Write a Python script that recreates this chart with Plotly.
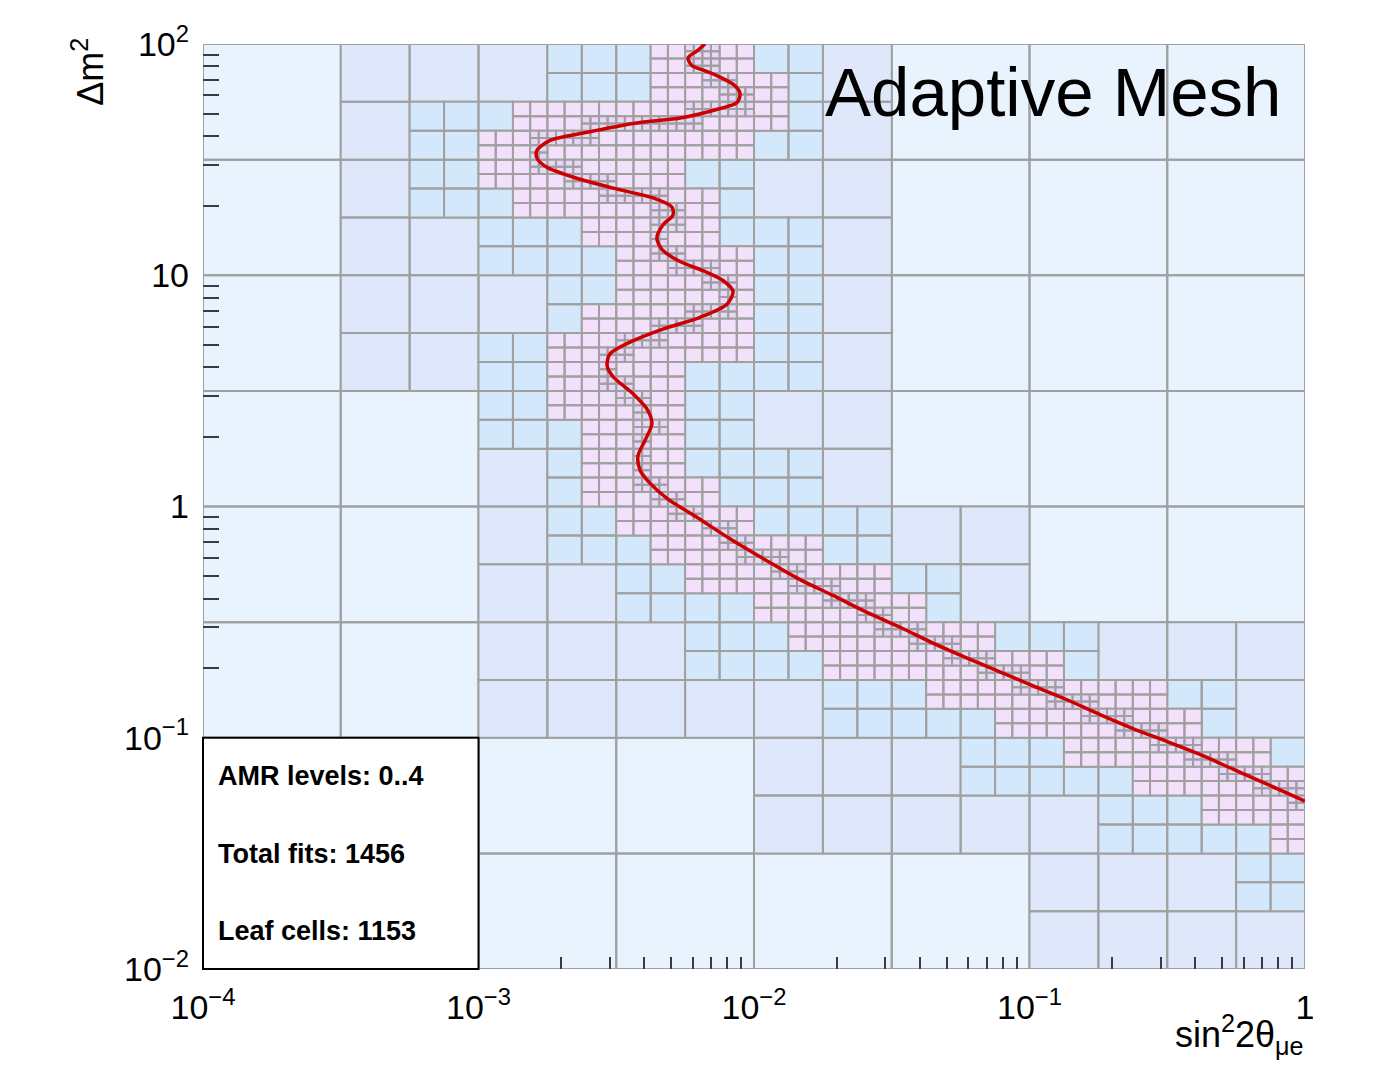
import numpy as np
import plotly.graph_objects as go

# ---------------- data ----------------
# exclusion contour (sin^2 2theta, delta m^2)
sin2 = [6.64e-3, 6.21e-3, 5.76e-3, 5.96e-3, 6.64e-3, 7.34e-3, 8.53e-3, 8.90e-3, 8.68e-3, 7.53e-3,
        5.53e-3, 3.64e-3, 2.48e-3, 1.82e-3, 1.63e-3, 1.63e-3, 1.77e-3, 2.20e-3, 3.08e-3, 4.30e-3,
        5.04e-3, 5.08e-3, 4.67e-3, 4.44e-3, 4.64e-3, 5.39e-3, 6.64e-3, 7.72e-3, 8.39e-3, 7.98e-3,
        6.37e-3, 4.67e-3, 3.55e-3, 3.00e-3, 2.93e-3, 3.08e-3, 3.64e-3, 4.12e-3, 4.26e-3, 4.02e-3,
        3.79e-3, 3.86e-3, 4.19e-3, 4.87e-3, 6.26e-3, 8.18e-3, 1.096e-2, 1.469e-2, 1.935e-2, 2.57e-2,
        3.39e-2, 4.46e-2, 5.93e-2, 7.81e-2, 0.1030, 0.1368, 0.1803, 0.2375, 0.3155, 0.4158,
        0.548, 0.728, 1.0]
dm2 = [100.0, 93.3, 87.1, 80.5, 76.6, 72.9, 66.0, 61.0, 55.8, 52.6,
       48.1, 45.3, 41.5, 38.3, 34.7, 32.1, 29.3, 26.6, 23.8, 21.6,
       19.7, 18.2, 16.5, 14.5, 12.9, 11.46, 10.38, 9.49, 8.52, 7.49,
       6.58, 5.85, 5.14, 4.57, 4.06, 3.64, 3.07, 2.60, 2.28, 1.93,
       1.65, 1.435, 1.262, 1.077, 0.892, 0.725, 0.589, 0.483, 0.4125, 0.3486,
       0.3006, 0.2566, 0.2212, 0.1926, 0.1677, 0.1460, 0.1259, 0.1096, 0.0963, 0.0847,
       0.0731, 0.0630, 0.0532]

# refinement maps (rows from top = dm2 100 downwards, columns from sin2 = 1e-4)
# level 0: 8x8 cells of half a decade
level0_map = ["01111000",
              "01111000",
              "01111000",
              "00111000",
              "00111100",
              "00111111",
              "00001111",
              "00000011"]
# level 1: 16x16 cells of a quarter decade
level1_map = ["0000011110000000",
              "0001111110000000",
              "0001111100000000",
              "0000111110000000",
              "0000011110000000",
              "0000111110000000",
              "0000111100000000",
              "0000011110000000",
              "0000011111000000",
              "0000001111100000",
              "0000000111111000",
              "0000000001111110",
              "0000000000011111",
              "0000000000000111",
              "0000000000000001",
              "0000000000000000"]
# level 2: 32x32 grid, refined column span (first, last) for each row from the top
level2_spans = [(13, 15), (13, 16), (9, 16), (8, 15), (8, 13), (9, 14), (11, 14), (12, 15),
                (12, 15), (11, 15), (10, 15), (10, 13), (10, 13), (11, 13), (11, 13), (11, 14),
                (12, 15), (13, 17), (14, 19), (16, 20), (17, 22), (18, 24), (21, 27), (23, 28),
                (25, 30), (27, 31), (29, 31), (31, 31)]
# level 3 cells are refined where the contour runs through them

level_colors = ["#e8f3fd", "#dfe8fb", "#d3e8fb", "#f3e1fb", "#ead6f8"]

x_tick_vals = [1e-4, 1e-3, 1e-2, 1e-1, 1]
x_tick_text = ["10<sup>\u22124</sup>", "10<sup>\u22123</sup>", "10<sup>\u22122</sup>", "10<sup>\u22121</sup>", "1"]
y_tick_vals = [1e-2, 1e-1, 1, 10, 100]
y_tick_text = ["10<sup>\u22122</sup>", "10<sup>\u22121</sup>", "1", "10", "10<sup>2</sup>"]
info_lines = ["AMR levels: 0..4", "Total fits: 1456", "Leaf cells: 1153"]

# ---------------- mesh construction ----------------
U_MIN, U_MAX, V_MIN, V_MAX = -4.0, 0.0, -2.0, 2.0
N0 = 8
MAX_LEVEL = 4

cu = np.log10(np.array(sin2))
cv = np.log10(np.array(dm2))
tt = np.linspace(0, 1, 40)
pu = np.concatenate([cu[k] + (cu[k + 1] - cu[k]) * tt for k in range(len(cu) - 1)])
pv = np.concatenate([cv[k] + (cv[k + 1] - cv[k]) * tt for k in range(len(cv) - 1)])


def crosses(u0, u1, v0, v1):
    return bool(np.any((pu >= u0) & (pu <= u1) & (pv >= v0) & (pv <= v1)))


def refined(level, i, j, u0, u1, v0, v1):
    if level == 0:
        return level0_map[j][i] == "1"
    if level == 1:
        return level1_map[j][i] == "1"
    if level == 2:
        if j >= len(level2_spans):
            return False
        a, b = level2_spans[j]
        return a <= i <= b
    if level == 3:
        return crosses(u0, u1, v0, v1)
    return False


leaves = {L: [] for L in range(MAX_LEVEL + 1)}


def build(level, i, j):
    n = N0 * 2 ** level
    s = (U_MAX - U_MIN) / n
    u0 = U_MIN + i * s
    u1 = u0 + s
    v1 = V_MAX - j * s
    v0 = v1 - s
    if refined(level, i, j, u0, u1, v0, v1):
        for di in (0, 1):
            for dj in (0, 1):
                build(level + 1, 2 * i + di, 2 * j + dj)
    else:
        leaves[level].append((u0, u1, v0, v1))


for j in range(N0):
    for i in range(N0):
        build(0, i, j)

fig = go.Figure()
for L in range(MAX_LEVEL + 1):
    xs, ys = [], []
    for (u0, u1, v0, v1) in leaves[L]:
        xa, xb, ya, yb = 10 ** u0, 10 ** u1, 10 ** v0, 10 ** v1
        xs += [xa, xb, xb, xa, xa, None]
        ys += [ya, ya, yb, yb, ya, None]
    fig.add_trace(go.Scatter(x=xs, y=ys, mode="lines", fill="toself",
                             fillcolor=level_colors[L],
                             line=dict(color="#a0a0a0", width=2),
                             hoverinfo="skip", showlegend=False, cliponaxis=False))

fig.add_trace(go.Scatter(x=sin2, y=dm2, mode="lines",
                         line=dict(color="#cc0000", width=3.5, shape="spline", smoothing=0.8),
                         hoverinfo="skip", showlegend=False))

# minor ticks (only where not hidden by the info box)
x_minor = [m * 10.0 ** e for e in (-3, -2, -1) for m in range(2, 10)]
y_minor = [m * 10.0 ** e for e in (-1, 0, 1) for m in range(2, 10)]

FONT = "Liberation Sans, Arial, Helvetica, sans-serif"

fig.update_layout(
    width=1382, height=1072,
    margin=dict(l=195, r=85, t=30, b=111),
    paper_bgcolor="white", plot_bgcolor="white",
    font=dict(family=FONT, color="black"),
    xaxis=dict(type="log", range=[-4, 0], tickvals=x_tick_vals, ticktext=x_tick_text,
               ticks="", showgrid=False, zeroline=False, showline=False,
               tickfont=dict(size=34, family=FONT), ticklabelstandoff=15,
               minor=dict(tickmode="array", tickvals=x_minor, ticks="inside", ticklen=12,
                          tickwidth=2, tickcolor="#343c46", showgrid=False)),
    yaxis=dict(type="log", range=[-2, 2], tickvals=y_tick_vals, ticktext=y_tick_text,
               ticks="", showgrid=False, zeroline=False, showline=False,
               tickfont=dict(size=34, family=FONT), ticklabelstandoff=13,
               minor=dict(tickmode="array", tickvals=y_minor, ticks="inside", ticklen=16,
                          tickwidth=2, tickcolor="#343c46", showgrid=False)),
)

# info box
fig.add_shape(type="rect", xref="paper", yref="paper", x0=0, x1=0.25, y0=0, y1=0.25,
              fillcolor="white", line=dict(color="black", width=2), layer="above")
for k, txt in enumerate(info_lines):
    fig.add_annotation(xref="paper", yref="paper", x=0.0118, y=[0.2084, 0.1246, 0.0408][k],
                       xanchor="left", yanchor="middle", showarrow=False,
                       text="<b>" + txt + "</b>", font=dict(size=27, family=FONT, color="black"))

fig.add_annotation(xref="paper", yref="paper", x=0.980, y=0.9474, xanchor="right", yanchor="middle",
                   showarrow=False, text="Adaptive Mesh", font=dict(size=69, family=FONT, color="black"))
fig.add_annotation(xref="paper", yref="paper", x=-0.1043, y=0.970, xanchor="center", yanchor="middle",
                   showarrow=False, textangle=-90, text="\u0394m<sup>2</sup>",
                   font=dict(size=36, family=FONT, color="black"))
fig.add_annotation(xref="paper", yref="paper", x=1.0007, y=-0.0709, xanchor="right", yanchor="middle",
                   showarrow=False, text="sin<sup>2</sup>2\u03b8<sub>\u03bce</sub>",
                   font=dict(size=36, family=FONT, color="black"))

fig.write_html("out.html")
